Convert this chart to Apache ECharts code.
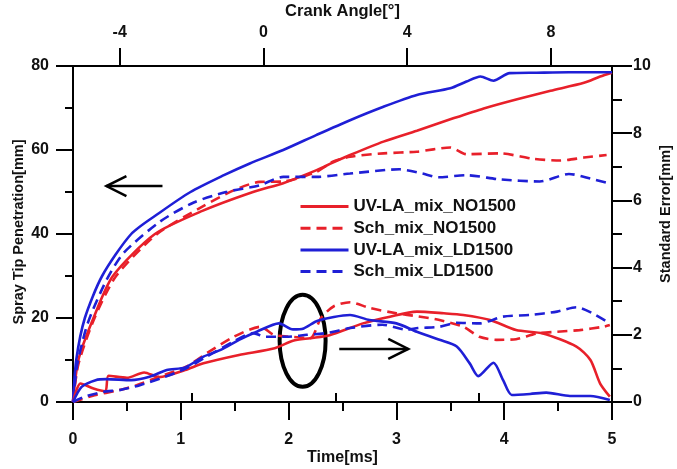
<!DOCTYPE html>
<html>
<head>
<meta charset="utf-8">
<script src="https://cdn.jsdelivr.net/npm/echarts@6/dist/echarts.min.js"></script>
<style>
html, body { margin: 0; padding: 0; background: #fff; }
#chart { width: 677px; height: 469px; }
</style>
</head>
<body>
<div id="chart"></div>
<script>
// legend names
var names = ["UV-LA_mix_NO1500", "Sch_mix_NO1500", "UV-LA_mix_LD1500", "Sch_mix_LD1500"];

// top axis (crank angle) ticks
var crankMin = -5.3, crankMax = 9.7;
var crankTicks = [-4, 0, 4, 8];
var crankMinor = [-2, 2, 6];

// spray tip penetration [mm] (left axis)
var tUvNo = [0, 0.05, 0.19, 0.37, 0.76, 1.2, 1.67, 1.95, 2.26, 2.41, 2.57, 2.88, 3.19, 3.5, 3.81, 4.12, 4.43, 4.74, 4.89, 5];
var penUvNo = [0, 10, 20, 30, 40, 45.5, 50, 52.1, 55.2, 57, 58.8, 62, 64.6, 67.3, 69.9, 72.1, 74.1, 76, 77.5, 78.4];

var tSchNo = [0, 0.05, 0.2, 0.4, 0.78, 1.2, 1.5, 1.73, 1.95, 2.26, 2.41, 2.57, 2.88, 3.19, 3.5, 3.65, 3.96, 4.27, 4.52, 4.74, 4.95];
var penSchNo = [0, 9, 20, 30, 40, 46.5, 50.5, 52.4, 52.5, 54.8, 57.2, 58.4, 59.2, 59.6, 60.6, 59, 59.2, 57.9, 57.5, 58.2, 58.8];

var tUvLd = [0, 0.03, 0.11, 0.27, 0.54, 0.8, 1.09, 1.4, 1.64, 1.95, 2.26, 2.57, 2.88, 3.19, 3.5, 3.65, 3.78, 3.9, 4.05, 4.3, 4.6, 5];
var penUvLd = [0, 10, 20, 30, 40, 45, 50, 54, 56.8, 60, 63.6, 67.1, 70.3, 73.1, 74.7, 76.3, 77.5, 76.5, 78.3, 78.4, 78.5, 78.5];

var tSchLd = [0, 0.04, 0.14, 0.31, 0.47, 0.81, 1.12, 1.42, 1.73, 1.95, 2.26, 2.57, 3.03, 3.24, 3.39, 3.65, 3.96, 4.33, 4.6, 4.8, 4.97];
var penSchLd = [0, 9, 19, 29, 35.5, 43, 47.5, 50, 51.6, 53.6, 53.6, 54.4, 55.4, 54.4, 53.5, 54, 53, 52.5, 54.3, 53.2, 52.1];

// standard error [mm] (right axis)
var tErrUvNo = [0, 0.07, 0.19, 0.3, 0.33, 0.5, 0.66, 0.8, 1.04, 1.21, 1.54, 1.87, 2.04, 2.2, 2.38, 2.69, 2.94, 3.19, 3.44, 3.62, 3.87, 4.11, 4.36, 4.67, 4.8, 4.89, 4.98];
var errUvNo = [0, 0.55, 0.4, 0.32, 0.78, 0.72, 0.88, 0.74, 0.95, 1.15, 1.4, 1.6, 1.82, 1.9, 1.99, 2.34, 2.54, 2.69, 2.64, 2.59, 2.44, 2.14, 2.04, 1.65, 1.25, 0.55, 0.16];

var tErrSchNo = [0, 0.2, 0.41, 0.59, 0.8, 1.05, 1.24, 1.49, 1.74, 1.86, 2.0, 2.2, 2.3, 2.42, 2.57, 2.75, 3.0, 3.2, 3.4, 3.62, 3.77, 3.93, 4.11, 4.3, 4.49, 4.7, 4.92, 4.98];
var errSchNo = [0, 0.2, 0.34, 0.5, 0.75, 1.05, 1.45, 1.94, 2.24, 2.0, 1.95, 1.9, 2.5, 2.85, 2.97, 2.8, 2.64, 2.55, 2.44, 2.24, 1.94, 1.85, 1.87, 2.04, 2.09, 2.14, 2.24, 2.29];

var tErrUvLd = [0, 0.08, 0.21, 0.31, 0.54, 0.71, 0.87, 1.04, 1.21, 1.37, 1.54, 1.71, 1.91, 2.04, 2.14, 2.27, 2.57, 2.75, 3.0, 3.19, 3.4, 3.56, 3.68, 3.76, 3.9, 3.99, 4.07, 4.24, 4.39, 4.61, 4.8, 4.98];
var errUvLd = [0, 0.45, 0.65, 0.68, 0.65, 0.75, 0.95, 1.03, 1.35, 1.55, 1.85, 2.1, 2.34, 2.16, 2.19, 2.42, 2.59, 2.44, 2.34, 2.09, 1.85, 1.65, 1.15, 0.77, 1.17, 0.65, 0.21, 0.24, 0.28, 0.18, 0.18, 0.06];

var tErrSchLd = [0, 0.1, 0.28, 0.44, 0.62, 0.81, 1.05, 1.24, 1.49, 1.67, 1.79, 1.97, 2.17, 2.37, 2.57, 2.87, 3.1, 3.2, 3.4, 3.56, 3.77, 3.99, 4.24, 4.49, 4.67, 4.82, 4.98];
var errSchLd = [0, 0.15, 0.3, 0.36, 0.5, 0.7, 1.0, 1.35, 1.8, 2.05, 1.94, 1.94, 2.0, 2.06, 2.2, 2.3, 2.15, 2.2, 2.24, 2.36, 2.34, 2.54, 2.59, 2.69, 2.82, 2.64, 2.34];

var RED = "#e8202a";
var BLUE = "#1f1fd6";
var FONT = "Liberation Sans";

function pairs(ts, vs) {
  return ts.map(function (t, i) { return [t, vs[i]]; });
}

function mkSeries(name, ts, vs, color, dashed, yIdx) {
  return {
    name: name,
    type: "line",
    xAxisIndex: 0,
    yAxisIndex: yIdx,
    data: pairs(ts, vs),
    smooth: 0.25,
    symbol: "none",
    showSymbol: false,
    color: color,
    lineStyle: { color: color, width: 2.6, type: dashed ? [10, 6] : "solid" }
  };
}

var chart = echarts.init(document.getElementById("chart"));

var axisLine = { show: true, onZero: false, lineStyle: { color: "#000", width: 2 } };
var labelStyle = { color: "#111", fontSize: 16, fontWeight: "bold", fontFamily: FONT };
function nameStyle(size, extra) {
  return Object.assign({ color: "#111", fontSize: size, fontWeight: "bold", fontFamily: FONT }, extra || {});
}

var option = {
  animation: false,
  backgroundColor: "#fff",
  grid: { left: 73, right: 65, top: 66, bottom: 67, containLabel: false, outerBoundsMode: "none" },
  legend: {
    data: names,
    orient: "vertical",
    left: 294,
    top: 193,
    itemWidth: 48,
    itemHeight: 14,
    itemGap: 4.7,
    itemStyle: { opacity: 0 },
    lineStyle: { width: 3 },
    textStyle: { color: "#111", fontSize: 17, fontWeight: "bold", fontFamily: FONT }
  },
  xAxis: [
    {
      type: "value",
      position: "bottom",
      min: 0, max: 5, interval: 1,
      name: "Time[ms]",
      nameLocation: "middle",
      nameGap: 48,
      nameMoveOverlap: false,
      nameTextStyle: nameStyle(16),
      axisLine: axisLine,
      axisTick: { length: 18, lineStyle: { color: "#000", width: 2 } },
      minorTick: { show: true, splitNumber: 2, length: 9, lineStyle: { color: "#000", width: 2 } },
      axisLabel: Object.assign({ margin: 30 }, labelStyle),
      splitLine: { show: false }
    },
    {
      type: "value",
      position: "top",
      min: crankMin, max: crankMax,
      name: "Crank Angle[°]",
      nameLocation: "middle",
      nameGap: 46,
      nameMoveOverlap: false,
      nameTextStyle: nameStyle(16.5),
      axisLine: axisLine,
      axisTick: { customValues: crankTicks, length: 18, lineStyle: { color: "#000", width: 2 } },
      axisLabel: Object.assign({ customValues: crankTicks, margin: 25 }, labelStyle),
      splitLine: { show: false }
    },
    {
      type: "value",
      position: "top",
      min: crankMin, max: crankMax,
      axisLine: { show: false },
      axisTick: { customValues: crankMinor, length: 9, lineStyle: { color: "#000", width: 2 } },
      axisLabel: { show: false },
      splitLine: { show: false }
    }
  ],
  yAxis: [
    {
      type: "value",
      position: "left",
      min: 0, max: 80, interval: 20,
      name: "Spray Tip Penetration[mm]",
      nameLocation: "middle",
      nameRotate: 90,
      nameGap: 47,
      nameMoveOverlap: false,
      nameTextStyle: nameStyle(14.5, { padding: [0, 0, 0, 4] }),
      axisLine: axisLine,
      axisTick: { length: 17, lineStyle: { color: "#000", width: 2 } },
      minorTick: { show: true, splitNumber: 2, length: 8, lineStyle: { color: "#000", width: 2 } },
      axisLabel: Object.assign({ margin: 24 }, labelStyle),
      splitLine: { show: false }
    },
    {
      type: "value",
      position: "right",
      min: 0, max: 10, interval: 2,
      name: "Standard Error[mm]",
      nameLocation: "middle",
      nameRotate: 90,
      nameGap: 46,
      nameMoveOverlap: false,
      nameTextStyle: nameStyle(14.5, { padding: [0, 0, 0, 40] }),
      axisLine: axisLine,
      axisTick: { length: 20, lineStyle: { color: "#000", width: 2 } },
      minorTick: { show: true, splitNumber: 2, length: 10, lineStyle: { color: "#000", width: 2 } },
      axisLabel: Object.assign({ margin: 21 }, labelStyle),
      splitLine: { show: false }
    }
  ],
  series: [
    mkSeries(names[0], tUvNo, penUvNo, RED, false, 0),
    mkSeries(names[1], tSchNo, penSchNo, RED, true, 0),
    mkSeries(names[2], tUvLd, penUvLd, BLUE, false, 0),
    mkSeries(names[3], tSchLd, penSchLd, BLUE, true, 0),
    mkSeries(names[0], tErrUvNo, errUvNo, RED, false, 1),
    mkSeries(names[1], tErrSchNo, errSchNo, RED, true, 1),
    mkSeries(names[2], tErrUvLd, errUvLd, BLUE, false, 1),
    mkSeries(names[3], tErrSchLd, errSchLd, BLUE, true, 1)
  ]
};

chart.setOption(option);

// annotations: arrows pointing to the axis each group belongs to, and the ellipse
function px(x, y, yIdx) {
  return chart.convertToPixel({ xAxisIndex: 0, yAxisIndex: yIdx }, [x, y]);
}
function arrow(from, to) {
  var dir = to[0] > from[0] ? 1 : -1;
  return [
    { type: "polyline", shape: { points: [from, to] }, style: { stroke: "#000", lineWidth: 2.5, fill: null } },
    { type: "polyline", shape: { points: [[to[0] - dir * 20, to[1] - 10], to, [to[0] - dir * 20, to[1] + 10]] },
      style: { stroke: "#000", lineWidth: 2.5, fill: null } }
  ];
}
var leftArrowTail = px(0.83, 51.4, 0), leftArrowTip = px(0.31, 51.4, 0);
var rightArrowTail = px(2.47, 1.58, 1), rightArrowTip = px(3.11, 1.58, 1);
var ellipseC = px(2.13, 1.82, 1);

chart.setOption({
  graphic: arrow(leftArrowTail, leftArrowTip).concat(arrow(rightArrowTail, rightArrowTip)).concat([
    { type: "ellipse", shape: { cx: ellipseC[0], cy: ellipseC[1], rx: 23, ry: 46 },
      style: { stroke: "#000", lineWidth: 4, fill: null } }
  ])
});
</script>
</body>
</html>
